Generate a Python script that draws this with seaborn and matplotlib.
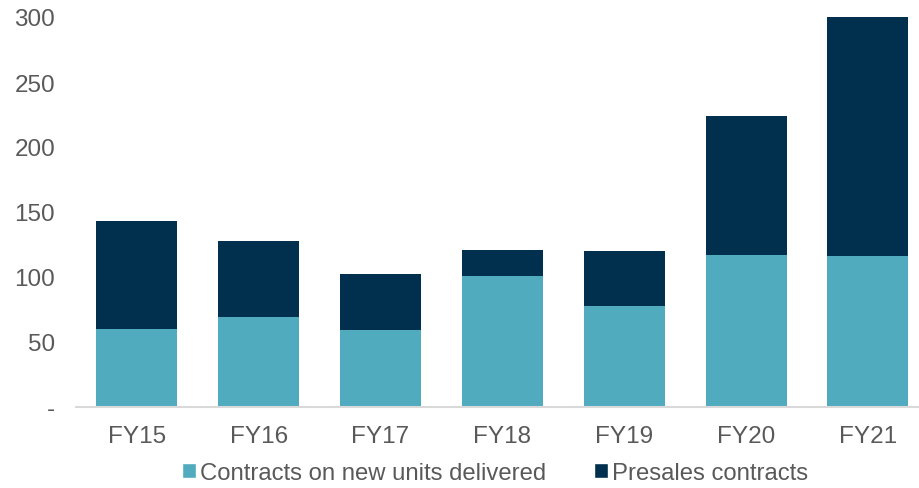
import matplotlib
matplotlib.use("Agg")
import matplotlib.pyplot as plt
import pandas as pd
import seaborn as sns
from matplotlib.patches import Patch

years = ['FY15', 'FY16', 'FY17', 'FY18', 'FY19', 'FY20', 'FY21']
delivered = [60, 69, 59, 101, 78, 117, 116]
presales = [83, 59, 43, 20, 42, 107, 184]

teal = '#50ABBF'
navy = '#01304E'

sns.set_theme(style='white')
plt.rcParams['font.family'] = ['Liberation Sans', 'DejaVu Sans']

df = pd.DataFrame({'year': years, 'delivered': delivered, 'presales': presales})
df['total'] = df['delivered'] + df['presales']

fig = plt.figure(figsize=(9.19, 4.89), dpi=100)
ax = fig.add_axes([76 / 919, 1 - 408 / 489, 1 - 76 / 919, (408 - 18) / 489])

# stacked: draw totals first, then bottom part over it
sns.barplot(data=df, x='year', y='total', color=navy, width=0.665,
            saturation=1, linewidth=0, ax=ax)
sns.barplot(data=df, x='year', y='delivered', color=teal, width=0.665,
            saturation=1, linewidth=0, ax=ax)

ax.set_xlim(-0.5, 6.42)
ax.set_ylim(0, 300)
ax.set_yticks([0, 50, 100, 150, 200, 250, 300])
ax.set_yticklabels(['-', '50', '100', '150', '200', '250', '300'])
ax.set_xlabel('')
ax.set_ylabel('')
for s in ['top', 'right', 'left']:
    ax.spines[s].set_visible(False)
ax.spines['bottom'].set_color('#D9D9D9')
ax.spines['bottom'].set_linewidth(1.5)
ax.tick_params(axis='both', length=0, labelsize=17.5, colors='#595959')
ax.tick_params(axis='x', pad=13)
ax.tick_params(axis='y', pad=15)

handles = [Patch(facecolor=teal, label='Contracts on new units delivered'),
           Patch(facecolor=navy, label='Presales contracts')]
fig.legend(handles=handles, loc='center', bbox_to_anchor=(495 / 919, 1 - 474 / 489),
           ncol=2, frameon=False, fontsize=17.2, handlelength=0.6, handleheight=0.6,
           handletextpad=0.15, columnspacing=2.0, labelcolor='#595959')

fig.savefig('out.png', dpi=100)
